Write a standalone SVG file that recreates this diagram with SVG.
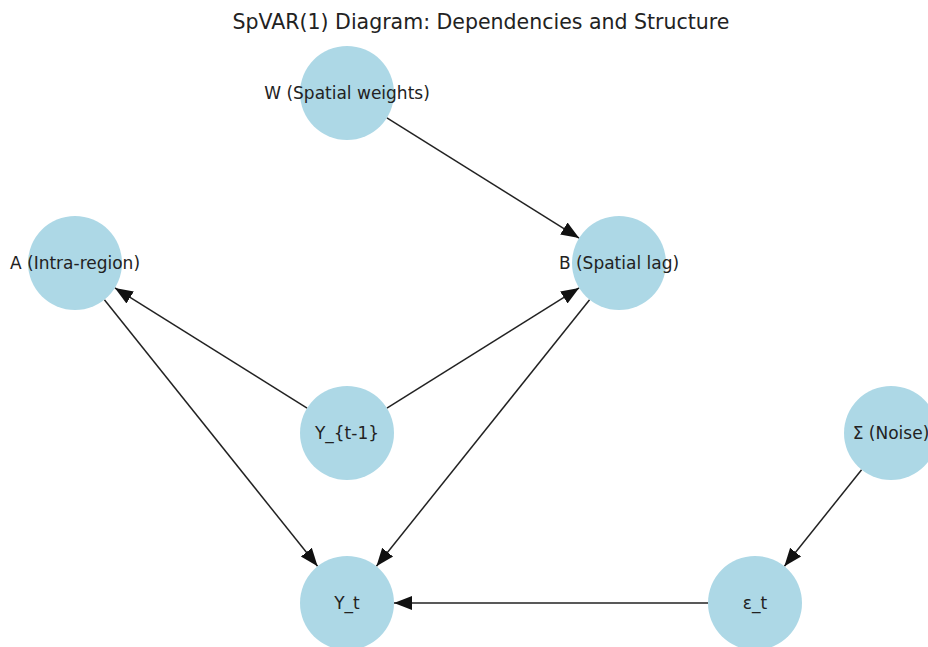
<svg xmlns="http://www.w3.org/2000/svg" width="928" height="647" viewBox="0 0 928 647">
<defs>
<marker id="ah" markerUnits="userSpaceOnUse" markerWidth="20" markerHeight="16" viewBox="0 0 20 16" refX="18" refY="8" orient="auto">
<path d="M0,1 L18,8 L0,15 Z" fill="#111"/>
</marker>
</defs>
<style>
.n{fill:#ADD8E6;}
.t{font-family:"DejaVu Sans",sans-serif;font-size:17px;fill:#222;text-anchor:middle;dominant-baseline:central;}
.e{stroke:#222;stroke-width:1.5;fill:none;marker-end:url(#ah);}
.title{font-family:"DejaVu Sans",sans-serif;font-size:20.5px;fill:#222;text-anchor:middle;}
</style>
<rect width="928" height="647" fill="#fff"/>
<text class="title" x="481" y="29">SpVAR(1) Diagram: Dependencies and Structure</text>
<g id="edges">
<line class="e" x1="386.9" y1="117.9" x2="579.1" y2="238.1"/>
<line class="e" x1="307.1" y1="408.1" x2="114.9" y2="287.9"/>
<line class="e" x1="386.9" y1="408.1" x2="579.1" y2="287.9"/>
<line class="e" x1="104.4" y1="299.7" x2="317.6" y2="566.3"/>
<line class="e" x1="589.6" y1="299.7" x2="376.4" y2="566.3"/>
<line class="e" x1="861.6" y1="469.7" x2="784.4" y2="566.3"/>
<line class="e" x1="708" y1="603" x2="394" y2="603"/>
</g>
<g id="W"><circle class="n" cx="347" cy="93" r="47"/><text class="t" x="347" y="93">W (Spatial weights)</text></g>
<g id="A"><circle class="n" cx="75" cy="263" r="47"/><text class="t" x="75" y="263">A (Intra-region)</text></g>
<g id="B"><circle class="n" cx="619" cy="263" r="47"/><text class="t" x="619" y="263">B (Spatial lag)</text></g>
<g id="Y1"><circle class="n" cx="347" cy="433" r="47"/><text class="t" x="347" y="433">Y_{t-1}</text></g>
<g id="S"><circle class="n" cx="891" cy="433" r="47"/><text class="t" x="891" y="433">Σ (Noise)</text></g>
<g id="Yt"><circle class="n" cx="347" cy="603" r="47"/><text class="t" x="347" y="603">Y_t</text></g>
<g id="E"><circle class="n" cx="755" cy="603" r="47"/><text class="t" x="755" y="603">ε_t</text></g>
</svg>
